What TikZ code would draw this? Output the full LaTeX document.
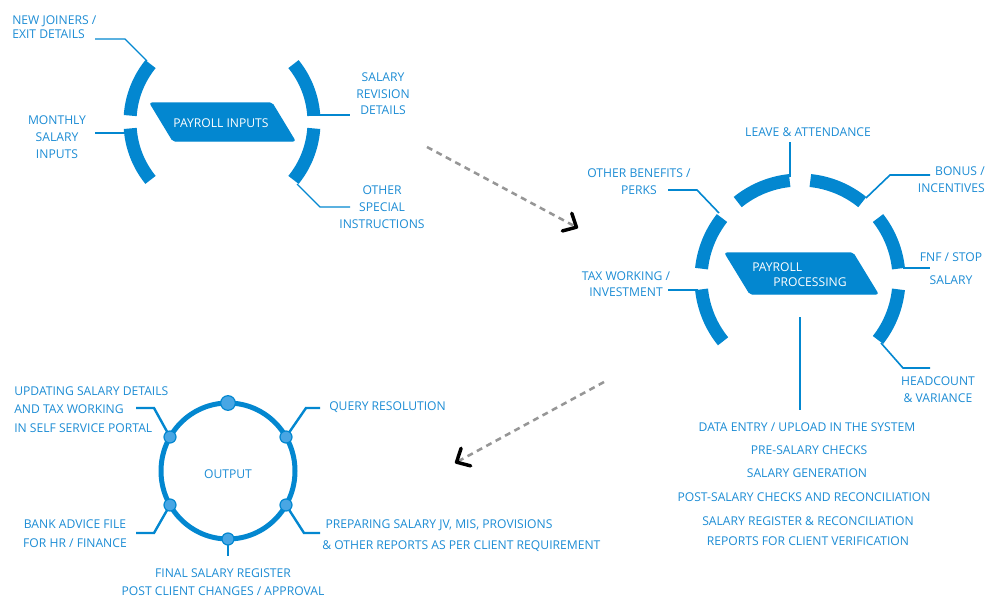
\documentclass[tikz,border=0pt]{standalone}
\usepackage{fontspec}
\setmainfont{Open Sans}
\usetikzlibrary{arrows.meta}
\definecolor{pblue}{RGB}{3,135,208}
\definecolor{ptext}{RGB}{28,140,212}
\definecolor{pdot}{RGB}{72,166,228}
\definecolor{dgray}{RGB}{150,150,150}
\begin{document}
\begin{tikzpicture}[x=0.75pt,y=-0.75pt,
  lbl/.style={text=ptext,font=\fontsize{9.1}{12.75}\selectfont,inner sep=0pt,align=center},
  wlbl/.style={text=white,font=\fontsize{9.1}{12.75}\selectfont,inner sep=0pt},
  band/.style={draw=pblue,line width=9.75pt},
  linkA/.style={draw=pblue,line width=0.8pt},
  linkB/.style={draw=pblue,line width=1.2pt},
  linkC/.style={draw=pblue,line width=1.8pt},
  flow/.style={draw=dgray,line width=1.9pt,dash pattern=on 4.5pt off 3.5pt,
    -{Straight Barb[length=8pt,width=15pt,line width=2.6pt,round,color=black]}},
  knob/.style={circle,fill=pdot,draw=pblue,line width=0.9pt,inner sep=0pt,minimum size=9pt},
  bigknob/.style={knob,minimum size=11pt},
  plate/.style={fill=pblue,draw=pblue,line width=0.8pt,rounded corners=1.5pt}]
\useasboundingbox (0,0) rectangle (1000,600);

% ---------------- PAYROLL INPUTS cluster ----------------
\coordinate (tl) at (222,122);
\draw[band] (tl) ++(-141:92) arc[start angle=-141,end angle=-176,radius=92];
\draw[band] (tl) ++(-184:92) arc[start angle=-184,end angle=-219,radius=92];
\draw[band] (tl) ++(-39:92) arc[start angle=-39,end angle=-4,radius=92];
\draw[band] (tl) ++(4:92) arc[start angle=4,end angle=39,radius=92];

\fill[plate] (150,103) -- (272,103) -- (295,141) -- (173,141) -- cycle;
\node[wlbl] (pin) at (221,123) {PAYROLL INPUTS};

\node[lbl,align=left,anchor=west] (nj) at (12,27) {NEW JOINERS /\\[-2.25pt]EXIT DETAILS};
\node[lbl] (msi) at (57,137) {MONTHLY\\SALARY\\INPUTS};
\node[lbl] (srd) at (383,94) {SALARY\\[-0.4pt]REVISION\\[-0.4pt]DETAILS};
\node[lbl] (osi) at (382,207) {OTHER\\SPECIAL\\INSTRUCTIONS};

\coordinate (njL) at (95,39);  \coordinate (njK) at (125,39); \coordinate (njA) at (147,61);
\coordinate (msL) at (95,133); \coordinate (msA) at (127,133);
\coordinate (srA) at (312,115); \coordinate (srR) at (350,115);
\coordinate (osA) at (297,184); \coordinate (osK) at (320,207); \coordinate (osR) at (350,207);
\draw[linkA] (njL) -- (njK) -- (njA);
\draw[linkA] (msL) -- (msA);
\draw[linkA] (srA) -- (srR);
\draw[linkA] (osA) -- (osK) -- (osR);

% ---------------- flow arrows ----------------
\coordinate (f1s) at (427,147); \coordinate (f1e) at (578,228);
\coordinate (f2s) at (604,382); \coordinate (f2e) at (455,463);
\draw[flow] (f1s) -- (f1e);
\draw[flow] (f2s) -- (f2e);

% ---------------- PAYROLL PROCESSING cluster ----------------
\coordinate (rc) at (800,279);
\draw[band] (rc) ++(-96:99) arc[start angle=-96,end angle=-129,radius=99];
\draw[band] (rc) ++(-51:99) arc[start angle=-51,end angle=-84,radius=99];
\draw[band] (rc) ++(-142:99) arc[start angle=-142,end angle=-174,radius=99];
\draw[band] (rc) ++(-186:99) arc[start angle=-186,end angle=-219,radius=99];
\draw[band] (rc) ++(-6:99) arc[start angle=-6,end angle=-38,radius=99];
\draw[band] (rc) ++(6:99) arc[start angle=6,end angle=38,radius=99];

\fill[plate] (725,253) -- (853,253) -- (878,294) -- (750,294) -- cycle;
\node[wlbl,align=left,anchor=west] (ppr) at (752,275) {PAYROLL\\[-1.5pt]\hspace*{15.75pt}PROCESSING};

\node[lbl] (la) at (808,132) {LEAVE \& ATTENDANCE};
\node[lbl,align=right,anchor=east] (bi) at (985,180) {BONUS /\\INCENTIVES};
\node[lbl] (ob) at (639,182) {OTHER BENEFITS /\\PERKS};
\node[lbl] (tw) at (626,284) {TAX WORKING /\\[-0.8pt]INVESTMENT};
\node[lbl] (fnf) at (951,269) {FNF / STOP\\[4.5pt]SALARY};
\node[lbl] (hc) at (938,390) {HEADCOUNT\\\& VARIANCE};

\coordinate (laT) at (790,142); \coordinate (laA) at (790,177);
\coordinate (biA) at (866,198); \coordinate (biK) at (890,175); \coordinate (biR) at (930,175);
\coordinate (obL) at (668,190); \coordinate (obK) at (697,190); \coordinate (obA) at (719,213);
\coordinate (twL) at (668,290); \coordinate (twA) at (698,290);
\coordinate (fnA) at (903,268); \coordinate (fnR) at (930,268);
\coordinate (hcA) at (881,343); \coordinate (hcK) at (903,368); \coordinate (hcR) at (930,368);
\coordinate (stT) at (800,317); \coordinate (stB) at (800,410);
\draw[linkB] (laT) -- (laA);
\draw[linkB] (biA) -- (biK) -- (biR);
\draw[linkB] (obL) -- (obK) -- (obA);
\draw[linkB] (twL) -- (twA);
\draw[linkB] (fnA) -- (fnR);
\draw[linkB] (hcA) -- (hcK) -- (hcR);
\draw[linkB] (stT) -- (stB);

\node[lbl] (s1) at (807,427) {DATA ENTRY / UPLOAD IN THE SYSTEM};
\node[lbl] (s2) at (809,450) {PRE-SALARY CHECKS};
\node[lbl] (s3) at (807,473) {SALARY GENERATION};
\node[lbl] (s4) at (804,497) {POST-SALARY CHECKS AND RECONCILIATION};
\node[lbl] (s5) at (808,531) {SALARY REGISTER \& RECONCILIATION\\[2.25pt]REPORTS FOR CLIENT VERIFICATION};

% ---------------- OUTPUT cluster ----------------
\draw[pblue,line width=3.75pt] (228,471) ellipse [x radius=67,y radius=68];
\node[lbl] (out) at (228,474) {OUTPUT};

\coordinate (dT) at (228,403);
\coordinate (dUL) at (170,437);
\coordinate (dUR) at (286,437);
\coordinate (dLL) at (170,505);
\coordinate (dLR) at (286,505);
\coordinate (dB) at (228,539);

\node[lbl,align=left,anchor=west] (upd) at (14,409.5) {UPDATING SALARY DETAILS\\[1.1pt]AND TAX WORKING\\[1.1pt]IN SELF SERVICE PORTAL};
\node[lbl,anchor=west] (qr) at (329,407) {QUERY RESOLUTION};
\node[lbl] (bank) at (75,533.5) {BANK ADVICE FILE\\[1.5pt]FOR HR / FINANCE};
\node[lbl,align=left,anchor=west] (prep) at (322,536) {\hspace*{2.5pt}PREPARING SALARY JV, MIS, PROVISIONS\\[3pt]\& OTHER REPORTS AS PER CLIENT REQUIREMENT};
\node[lbl] (fin) at (223,582) {FINAL SALARY REGISTER\\[0.75pt]POST CLIENT CHANGES / APPROVAL};

\coordinate (upL) at (136,408); \coordinate (upK) at (154,408);
\coordinate (qrK) at (306,408); \coordinate (qrR) at (320,408);
\coordinate (bkL) at (136,533); \coordinate (bkK) at (154,533);
\coordinate (prK) at (304,533); \coordinate (prR) at (320,533);
\coordinate (fnB) at (228,556);
\draw[linkC] (upL) -- (upK) -- (dUL);
\draw[linkC] (dUR) -- (qrK) -- (qrR);
\draw[linkC] (dLL) -- (bkK) -- (bkL);
\draw[linkC] (dLR) -- (prK) -- (prR);
\draw[linkC] (dB) -- (fnB);

\node[bigknob] (kT) at (dT) {};
\node[knob] (kUL) at (dUL) {};
\node[knob] (kUR) at (dUR) {};
\node[knob] (kLL) at (dLL) {};
\node[knob] (kLR) at (dLR) {};
\node[knob] (kB) at (dB) {};
\end{tikzpicture}
\end{document}
